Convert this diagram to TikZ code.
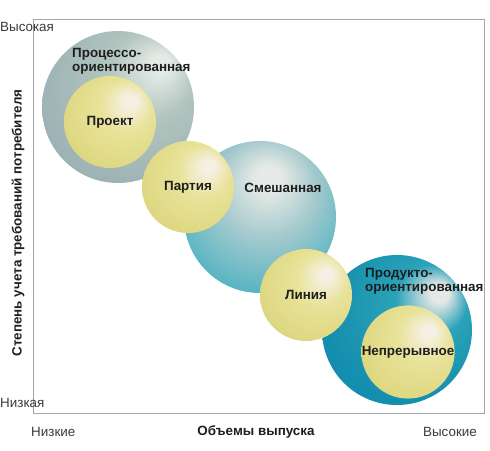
\documentclass[tikz,border=0pt]{standalone}
\usepackage{fontspec}
\setmainfont{Liberation Sans}
\newcommand{\lblsize}{\fontsize{13.4pt}{14pt}\selectfont}
\definecolor{framegray}{HTML}{A4A4AC}
\definecolor{txtdark}{HTML}{1E1E1E}
\definecolor{txtaxis}{HTML}{3A3A3A}
\definecolor{yhi}{HTML}{F6F0E4}
\definecolor{ymid}{HTML}{E8E39A}
\definecolor{ylo}{HTML}{DDD67F}
\definecolor{ghi}{HTML}{E4EAE6}
\definecolor{gmid}{HTML}{B2C5BE}
\definecolor{glo}{HTML}{9AB0B4}
\definecolor{mhi}{HTML}{E6EAE6}
\definecolor{mmid}{HTML}{A6CACE}
\definecolor{mlo}{HTML}{38ACBE}
\definecolor{phi}{HTML}{E4E8E6}
\definecolor{pmid}{HTML}{2AA2B8}
\definecolor{plo}{HTML}{148EAE}
\pgfdeclareradialshading{yellowball}{\pgfpoint{12bp}{12bp}}{color(0bp)=(yhi); color(3bp)=(yhi); color(14bp)=(ymid); color(32bp)=(ylo); color(50bp)=(ylo)}
\pgfdeclareradialshading{processball}{\pgfpoint{15bp}{15bp}}{color(0bp)=(ghi); color(3bp)=(ghi); color(14bp)=(gmid); color(34bp)=(glo); color(50bp)=(glo)}
\pgfdeclareradialshading{mixedball}{\pgfpoint{3bp}{14bp}}{color(0bp)=(mhi); color(4bp)=(mhi); color(16bp)=(mmid); color(36bp)=(mlo); color(50bp)=(mlo)}
\pgfdeclareradialshading{productball}{\pgfpoint{15bp}{13bp}}{color(0bp)=(phi); color(3bp)=(phi); color(12bp)=(pmid); color(30bp)=(plo); color(50bp)=(plo)}
\tikzset{
  bigcirc/.style={circle, inner sep=0pt, minimum size=152pt},
  smallcirc/.style={circle, inner sep=0pt, minimum size=92pt, shading=yellowball, font=\lblsize\bfseries, text=txtdark},
  circlabel/.style={font=\lblsize\bfseries, text=txtdark, align=left, inner sep=0pt},
  axislabel/.style={font=\lblsize, text=txtaxis, inner sep=0pt},
  axistitle/.style={font=\lblsize\bfseries, text=txtdark, inner sep=0pt}
}
\begin{document}
\begin{tikzpicture}[x=1pt, y=-1pt]
  \useasboundingbox (0,0) rectangle (490,450);
  % frame
  \draw[framegray, line width=1pt] (33,19) rectangle (484,413);
  % large circles
  \node[bigcirc, shading=processball] (process) at (118,107) {};
  \node[bigcirc, shading=mixedball] (mixed) at (260,217) {};
  \node[bigcirc, shading=productball, minimum size=150pt] (product) at (397,330) {};
  % small circles
  \node[smallcirc] (project) at (110,122) {Проект};
  \node[smallcirc] (batch) at (188,187) {Партия};
  \node[smallcirc] (line) at (306,295) {Линия};
  \node[smallcirc] (flow) at (408,352) {Непрерывное};
  % labels of large circles
  \node[circlabel, anchor=west] (processtxt) at (72,61) {Процессо-\\ориентированная};
  \node[circlabel] (mixedtxt) at (283,188) {Смешанная};
  \node[circlabel, anchor=west] (producttxt) at (365,281) {Продукто-\\ориентированная};
  % axes
  \node[axislabel, anchor=west] (yhigh) at (0,27) {Высокая};
  \node[axislabel, anchor=west] (ylow) at (0,403) {Низкая};
  \node[axislabel, anchor=west] (xlow) at (31,432) {Низкие};
  \node[axislabel, anchor=east] (xhigh) at (477,432) {Высокие};
  \node[axistitle] (xtitle) at (256,432) {Объемы выпуска};
  \node[axistitle, rotate=90] (ytitle) at (18,223) {Степень учета требований потребителя};
\end{tikzpicture}
\end{document}
